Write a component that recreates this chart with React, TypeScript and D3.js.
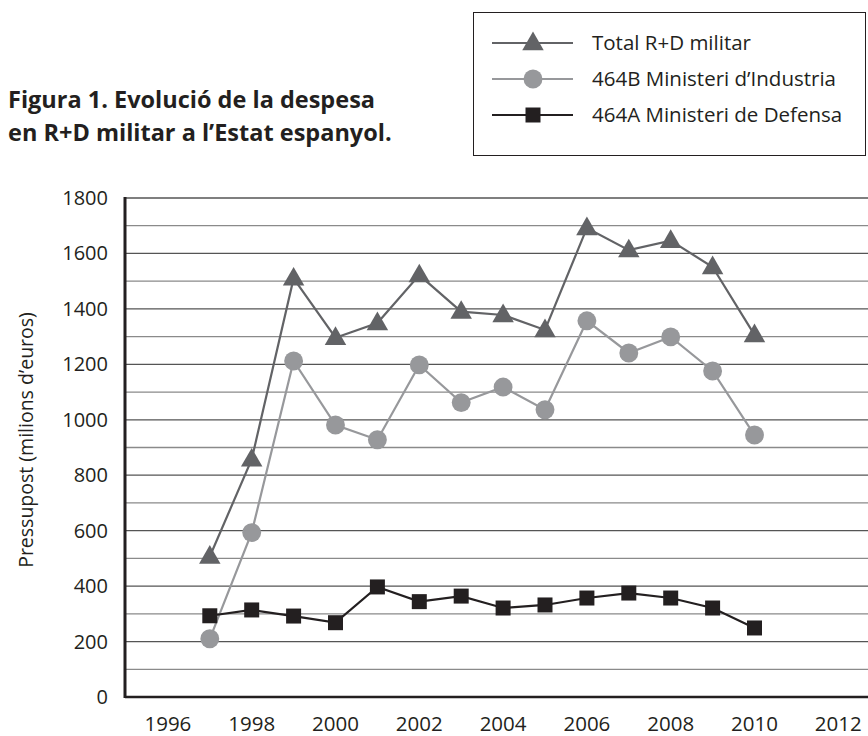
import React, { useRef, useEffect } from "react";
import * as d3 from "d3";

const years = [1997, 1998, 1999, 2000, 2001, 2002, 2003, 2004, 2005, 2006, 2007, 2008, 2009, 2010];
const totalRD = [507, 857, 1510, 1296, 1349, 1522, 1390, 1378, 1324, 1692, 1612, 1646, 1551, 1306];
const industria = [210, 593, 1212, 981, 928, 1198, 1062, 1118, 1036, 1357, 1241, 1299, 1176, 945];
const defensa = [293, 314, 292, 268, 397, 344, 364, 321, 332, 357, 375, 357, 321, 249];
const xTicks = [1996, 1998, 2000, 2002, 2004, 2006, 2008, 2010, 2012];
const yTicks = [0, 200, 400, 600, 800, 1000, 1200, 1400, 1600, 1800];
const legendLabels = ["Total R+D militar", "464B Ministeri d\u2019Industria", "464A Ministeri de Defensa"];

const FONT = "'Open Sans', 'Noto Sans', sans-serif";

const App = () => {
  const svgRef = useRef<SVGSVGElement>(null);

  useEffect(() => {
    const svg = d3.select(svgRef.current);
    svg.selectAll("*").remove();

    const width = 868;
    const height = 736;
    const left = 125;
    const top = 198;
    const bottom = 697;

    const x = d3.scaleLinear().domain([1995, 2013]).range([126, 126 + 18 * 41.9]);
    const y = d3.scaleLinear().domain([0, 1800]).range([bottom, top]);

    svg.attr("width", width).attr("height", height);

    // gridlines every 100
    const grid = d3.range(100, 1801, 100);
    svg
      .append("g")
      .selectAll("line")
      .data(grid)
      .enter()
      .append("line")
      .attr("x1", left)
      .attr("x2", width)
      .attr("y1", (d) => y(d))
      .attr("y2", (d) => y(d))
      .attr("stroke", (d) => (d % 200 === 0 ? "#555" : "#8a8a8a"))
      .attr("stroke-width", 1.3);

    // axes
    svg
      .append("line")
      .attr("x1", left)
      .attr("x2", width)
      .attr("y1", bottom)
      .attr("y2", bottom)
      .attr("stroke", "#231f20")
      .attr("stroke-width", 2.5);
    svg
      .append("line")
      .attr("x1", left)
      .attr("x2", left)
      .attr("y1", top - 1)
      .attr("y2", bottom + 1)
      .attr("stroke", "#231f20")
      .attr("stroke-width", 3);

    // tick labels
    svg
      .append("g")
      .selectAll("text")
      .data(yTicks)
      .enter()
      .append("text")
      .attr("x", 108)
      .attr("y", (d) => y(d) + 7)
      .attr("text-anchor", "end")
      .attr("font-family", FONT)
      .attr("font-size", 20)
      .attr("fill", "#231f20")
      .text((d) => d);

    svg
      .append("g")
      .selectAll("text")
      .data(xTicks)
      .enter()
      .append("text")
      .attr("x", (d) => x(d))
      .attr("y", 731)
      .attr("text-anchor", "middle")
      .attr("font-family", FONT)
      .attr("font-size", 20.5)
      .attr("fill", "#231f20")
      .text((d) => d);

    svg
      .append("text")
      .attr("transform", `translate(33, 440) rotate(-90)`)
      .attr("text-anchor", "middle")
      .attr("font-family", FONT)
      .attr("font-size", 19.5)
      .attr("fill", "#231f20")
      .text("Pressupost (milions d\u2019euros)");

    const series = [
      { values: totalRD, color: "#626366", shape: "triangle" },
      { values: industria, color: "#97989b", shape: "circle" },
      { values: defensa, color: "#231f20", shape: "square" },
    ];

    const line = d3
      .line<number>()
      .x((_, i) => x(years[i]))
      .y((d) => y(d));

    const symbolFor = (shape: string) =>
      shape === "triangle"
        ? d3.symbol().type(d3.symbolTriangle).size(200)
        : shape === "circle"
        ? d3.symbol().type(d3.symbolCircle).size(280)
        : d3.symbol().type(d3.symbolSquare).size(225);

    series.forEach((s) => {
      svg
        .append("path")
        .datum(s.values)
        .attr("d", line)
        .attr("fill", "none")
        .attr("stroke", s.color)
        .attr("stroke-width", 2.2);
      svg
        .append("g")
        .selectAll("path")
        .data(s.values)
        .enter()
        .append("path")
        .attr("d", symbolFor(s.shape)())
        .attr("transform", (d, i) => `translate(${x(years[i])}, ${y(d) + (s.shape === "triangle" ? 1 : 0)})`)
        .attr("fill", s.color);
    });

    // legend
    const legend = svg.append("g");
    legend
      .append("rect")
      .attr("x", 473.5)
      .attr("y", 12.5)
      .attr("width", 392)
      .attr("height", 143)
      .attr("fill", "#fff")
      .attr("stroke", "#231f20")
      .attr("stroke-width", 1);
    series.forEach((s, i) => {
      const ly = 43 + i * 36;
      legend
        .append("line")
        .attr("x1", 492)
        .attr("x2", 573)
        .attr("y1", ly)
        .attr("y2", ly)
        .attr("stroke", s.color)
        .attr("stroke-width", 2.2);
      legend
        .append("path")
        .attr("d", symbolFor(s.shape)())
        .attr("transform", `translate(533, ${ly + (s.shape === "triangle" ? 1 : 0)})`)
        .attr("fill", s.color);
      legend
        .append("text")
        .attr("x", 592)
        .attr("y", ly + 7)
        .attr("font-family", FONT)
        .attr("font-size", 20.5)
        .attr("fill", "#231f20")
        .text(legendLabels[i]);
    });

    // title
    const title = svg
      .append("text")
      .attr("font-family", FONT)
      .attr("font-weight", "bold")
      .attr("font-size", 23.5)
      .attr("fill", "#231f20");
    title.append("tspan").attr("x", 8).attr("y", 108).text("Figura 1. Evoluci\u00f3 de la despesa");
    title.append("tspan").attr("x", 8).attr("y", 141).text("en R+D militar a l\u2019Estat espanyol.");
  }, []);

  return <svg ref={svgRef} style={{ position: "absolute", left: 0, top: 0 }}></svg>;
};

export default App;
